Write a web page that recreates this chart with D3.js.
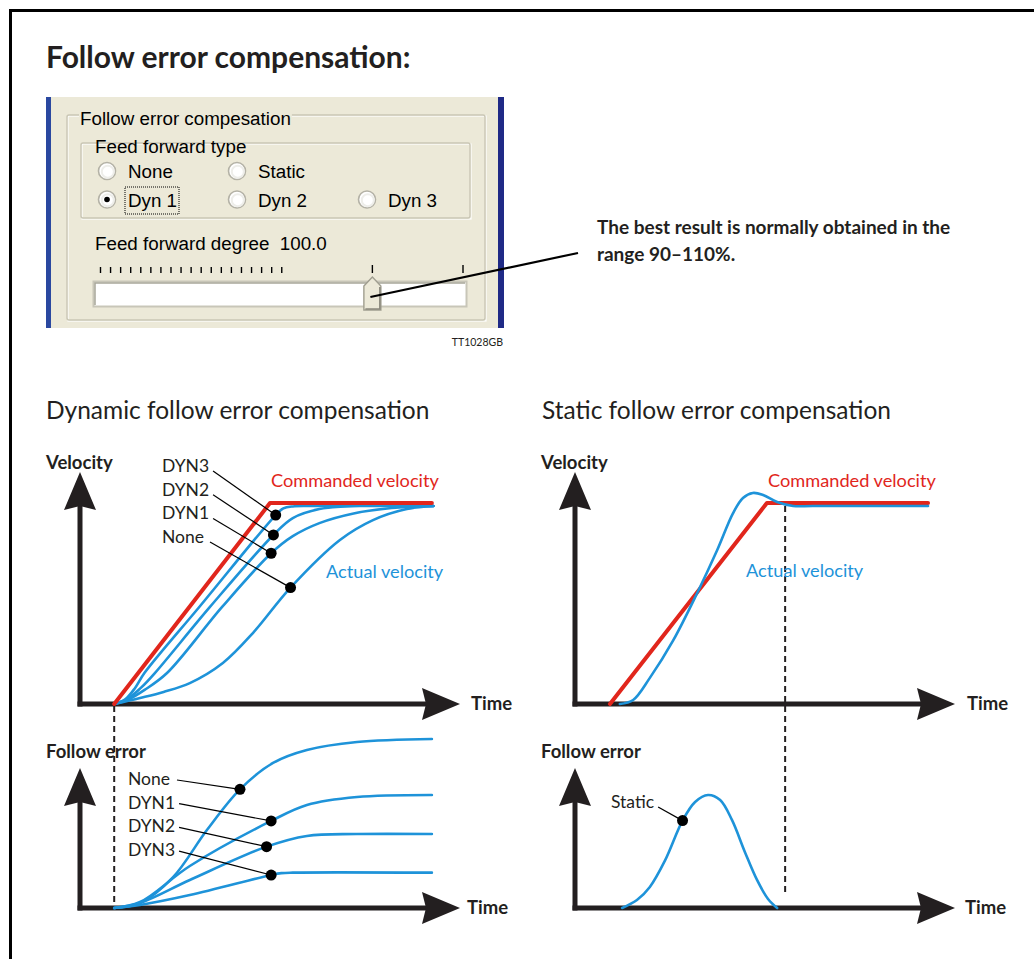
<!DOCTYPE html>
<html>
<head>
<meta charset="utf-8">
<script src="https://cdn.jsdelivr.net/npm/d3@7/dist/d3.min.js"></script>
<style>
  body { margin: 0; background: #fff; }
  text { font-family: Lato, "Open Sans", sans-serif; fill: #231f20; }
  .ui text { font-family: "Liberation Sans", Arial, sans-serif; fill: #000; }
</style>
</head>
<body>
<script>
// ---- data (time 0-100, value 0-100) ----
var commandedDyn = [[9,0],[50,100],[92.6,100]];
var velDyn3 = [[9,0],[12,2.5],[14.5,8],[17,15.5],[31.5,48.5],[51.5,94],[53.5,97.3],[56,98.3],[61,98.5],[93,98.5]];
var velDyn2 = [[9,0],[12.5,2.5],[16,8],[19.7,15.4],[34.2,48.3],[50.9,84.1],[56,92.5],[63,97],[72,98.5],[93,98.5]];
var velDyn1 = [[9,0],[13,2.5],[17,7],[22.9,15.4],[37.4,48.3],[50.3,75],[56,83.5],[63,90],[72,94.8],[82,97.5],[93,98.5]];
var velNone = [[9,0],[15.8,3],[22,6],[28.9,10.4],[37.6,20.4],[45.5,35.3],[55.4,57.9],[68.4,81.6],[77.1,91.5],[86,97],[93,98.5]];

var errNone = [[9,0],[15.8,2.9],[24.5,18.2],[33.4,45.9],[42.1,69.8],[50.8,85.3],[59.7,92.9],[72.9,97.6],[92.6,99.4]];
var errDyn1 = [[9,0],[15.8,3.5],[28.9,24.7],[50.3,51.2],[59.7,60.6],[72.9,65.3],[92.6,66.5]];
var errDyn2 = [[9,0],[15.8,3],[28.9,16.5],[49.1,36.1],[59.7,42.4],[72.9,43.5],[92.6,43.5]];
var errDyn3 = [[9,0],[15.8,1.8],[28.9,7.6],[50.3,19.4],[53,20.5],[56,20.8],[92.6,20.8]];

var commandedStat = [[9.2,0],[50.5,100],[92.9,100]];
var velStatic = [[11.8,0],[15.3,2],[19.7,13],[25.8,31.5],[32.1,55],[37.4,76.5],[41.6,95],[44.2,102.5],[46.8,105],[49.5,104],[53.2,100.5],[57.4,98.5],[62.6,98.5],[92.9,98.5]];
var errStatic = [[12.4,0],[16.3,4.7],[19.7,12.4],[23.7,28],[28.3,51.4],[31.6,62.4],[35,66.5],[38.2,63.5],[41.3,51.8],[44.7,33],[47.9,16.5],[50.8,5.3],[53.2,0]];

// markers on curves: label, time, value
var velLabels = ["DYN3","DYN2","DYN1","None"];
var velMarkers = [[51.5,94],[50.9,84.1],[50.3,75],[55.4,57.9]];
var errLabels = ["None","DYN1","DYN2","DYN3"];
var errMarkers = [[42.1,69.8],[50.3,51.2],[49.1,36.1],[50.3,19.4]];
var staticMarker = [28.3,51.4];

// dialog values
var radioLabels = ["None","Static","Dyn 1","Dyn 2","Dyn 3"];
var radioCells = [[0,0],[1,0],[0,1],[1,1],[2,1]];
var radioSelected = "Dyn 1";
var sliderTicks = [0,1,2,3,4,5,6,7,8,9,10,11,12,13,14,15,16,17,18,27,36];
var sliderValue = 27;

var red = "#e1261c", blue = "#1e93d9", ink = "#231f20";

var svg = d3.select("body").append("svg")
    .attr("width", 1034)
    .attr("height", 959);

// frame
svg.append("path")
    .attr("d", "M1034,10.5H10.5V959")
    .attr("fill", "none").attr("stroke", "#000").attr("stroke-width", 3);

svg.append("text").attr("x", 46).attr("y", 68)
    .attr("font-size", 30).attr("font-weight", "bold")
    .text("Follow error compensation:");

// ---- dialog screenshot ----
var ui = svg.append("g").attr("class", "ui");
ui.append("rect").attr("x", 46).attr("y", 97).attr("width", 458).attr("height", 231).attr("fill", "#ece9d8");
ui.append("rect").attr("x", 46).attr("y", 97).attr("width", 5).attr("height", 231).attr("fill", "#2a48a0");
ui.append("rect").attr("x", 498).attr("y", 97).attr("width", 6).attr("height", 231).attr("fill", "#1f2a86");

function groupBox(x, y, w, h, label, lx, ly) {
  ui.append("rect").attr("x", x + 1).attr("y", y + 1).attr("width", w).attr("height", h)
      .attr("fill", "none").attr("stroke", "#fff").attr("stroke-width", 1.2);
  ui.append("rect").attr("x", x).attr("y", y).attr("width", w).attr("height", h).attr("rx", 2)
      .attr("fill", "none").attr("stroke", "#c9c6b4").attr("stroke-width", 1.4);
  var t = ui.append("text").attr("x", lx).attr("y", ly).attr("font-size", 18.8).text(label);
  var b = t.node().getBBox();
  ui.insert("rect", "text").attr("x", b.x - 1).attr("y", y - 3).attr("width", b.width + 2).attr("height", 6).attr("fill", "#ece9d8");
}
groupBox(67, 115, 418, 205, "Follow error compesation", 80, 125);
groupBox(81, 143, 389, 75, "Feed forward type", 95, 153);

var radioX = d3.scaleLinear().domain([0, 2]).range([107, 367]);
var radioY = d3.scaleLinear().domain([0, 1]).range([171, 199.5]);
radioLabels.forEach(function(lab, i) {
  var cx = radioX(radioCells[i][0]), cy = radioY(radioCells[i][1]);
  ui.append("circle").attr("cx", cx).attr("cy", cy).attr("r", 8.5).attr("fill", "#fff")
      .attr("stroke", "#b4b2a6").attr("stroke-width", 1.6);
  ui.append("circle").attr("cx", cx + 0.8).attr("cy", cy + 0.8).attr("r", 6).attr("fill", "none")
      .attr("stroke", "#eeeeea").attr("stroke-width", 2);
  ui.append("text").attr("x", cx + 21).attr("y", cy + 7).attr("font-size", 18.8).text(lab);
  if (lab === radioSelected) {
    ui.append("circle").attr("cx", cx).attr("cy", cy).attr("r", 2.8).attr("fill", "#000");
    ui.append("rect").attr("x", cx + 18).attr("y", cy - 12.5).attr("width", 54).attr("height", 27)
        .attr("fill", "none").attr("stroke", "#000").attr("stroke-width", 1).attr("stroke-dasharray", "1,1");
  }
});

ui.append("text").attr("x", 95).attr("y", 250).attr("font-size", 18.8)
    .style("white-space", "pre").text("Feed forward degree  100.0");

var sx = d3.scaleLinear().domain([0, 36]).range([100.5, 463]);
ui.selectAll(".stick").data(sliderTicks).enter().append("line")
    .attr("x1", function(d) { return sx(d); }).attr("x2", function(d) { return sx(d); })
    .attr("y1", function(d) { return d > 18 ? 265 : 267; }).attr("y2", 273)
    .attr("stroke", "#000").attr("stroke-width", 1.4);
// track
ui.append("rect").attr("x", 93.5).attr("y", 281.5).attr("width", 373).attr("height", 25)
    .attr("fill", "#fff").attr("stroke", "#c8c6b8").attr("stroke-width", 2);
ui.append("path").attr("d", "M95,305V283H465").attr("fill", "none").attr("stroke", "#a8a699").attr("stroke-width", 1.5);
// thumb
var tx = sx(sliderValue);
ui.append("path")
    .attr("d", "M" + (tx - 8.5) + ",286L" + tx + ",277L" + (tx + 8.5) + ",286V310H" + (tx - 8.5) + "Z")
    .attr("fill", "#ece9d8").attr("stroke", "#a09e90").attr("stroke-width", 1.4);
ui.append("path")
    .attr("d", "M" + (tx - 7) + ",309H" + (tx + 7.5) + "V287")
    .attr("fill", "none").attr("stroke", "#8a887c").attr("stroke-width", 1.6);

// callout
svg.append("line").attr("x1", tx - 2).attr("y1", 297).attr("x2", 578).attr("y2", 253)
    .attr("stroke", "#000").attr("stroke-width", 2.2);
svg.append("text").attr("x", 597).attr("y", 234).attr("font-size", 19).attr("font-weight", "bold")
    .text("The best result is normally obtained in the");
svg.append("text").attr("x", 597).attr("y", 261).attr("font-size", 19).attr("font-weight", "bold")
    .text("range 90\u2013110%.");
svg.append("text").attr("x", 503).attr("y", 346).attr("font-size", 10.5)
    .attr("text-anchor", "end").attr("font-family", "Liberation Sans, Arial, sans-serif")
    .text("TT1028GB");

// ---- charts ----
svg.append("text").attr("x", 46).attr("y", 419).attr("font-size", 24.5).text("Dynamic follow error compensation");
svg.append("text").attr("x", 542).attr("y", 419).attr("font-size", 24.5).text("Static follow error compensation");

var xDyn = d3.scaleLinear().domain([0, 100]).range([80, 460]);
var xStat = d3.scaleLinear().domain([0, 100]).range([575, 955]);
var yVel = d3.scaleLinear().domain([0, 100]).range([704, 503]);
var yErr = d3.scaleLinear().domain([0, 100]).range([908, 738]);
var velTop = 472, errTop = 768;

function arrow(x1, y1, x2, y2) {
  var dx = x2 - x1, dy = y2 - y1, len = Math.sqrt(dx * dx + dy * dy);
  var ux = dx / len, uy = dy / len, px = -uy, py = ux;
  var hl = 38, hw = 16;
  var bx = x2 - ux * hl, by = y2 - uy * hl;
  svg.append("line").attr("x1", x1).attr("y1", y1).attr("x2", bx + ux * 6).attr("y2", by + uy * 6)
      .attr("stroke", ink).attr("stroke-width", 5);
  svg.append("path")
      .attr("d", "M" + x2 + "," + y2 + "L" + (bx + px * hw) + "," + (by + py * hw) +
                 "L" + (bx + ux * 4) + "," + (by + uy * 4) + "L" + (bx - px * hw) + "," + (by - py * hw) + "Z")
      .attr("fill", ink);
}

function axes(x, y, top, ylab, labY, tlx) {
  var x0 = x.range()[0], y0 = y(0);
  arrow(x0, y0 + 2.5, x0, top);
  arrow(x0 - 2.5, y0, x.range()[1], y0);
  svg.append("text").attr("x", x0 - 34).attr("y", labY).attr("font-size", 18.5).attr("font-weight", "bold").text(ylab);
  svg.append("text").attr("x", tlx).attr("y", y0 + 6).attr("font-size", 18.5).attr("font-weight", "bold").text("Time");
}

function curve(x, y, data, color, width, shape) {
  var line = d3.line()
      .x(function(d) { return x(d[0]); })
      .y(function(d) { return y(d[1]); })
      .curve(shape || d3.curveCatmullRom.alpha(0.5));
  svg.append("path").datum(data).attr("d", line)
      .attr("fill", "none").attr("stroke", color).attr("stroke-width", width)
      .attr("stroke-linejoin", "round").attr("stroke-linecap", "round");
}

function dashed(x, t, y1, y2) {
  svg.append("line").attr("x1", x(t)).attr("x2", x(t)).attr("y1", y1).attr("y2", y2)
      .attr("stroke", ink).attr("stroke-width", 2).attr("stroke-dasharray", "6,4");
}

function leaders(x, y, pts, labels, lx, ly0, dy, endOff, yOff) {
  labels.forEach(function(lab, i) {
    var ty = ly0 + i * dy;
    var t = svg.append("text").attr("x", lx).attr("y", ty).attr("font-size", 17.5).text(lab);
    var w = t.node().getComputedTextLength();
    svg.append("line").attr("x1", lx + Math.max(w, endOff) + 4).attr("y1", ty + yOff)
        .attr("x2", x(pts[i][0])).attr("y2", y(pts[i][1]))
        .attr("stroke", "#000").attr("stroke-width", 1.2);
    svg.append("circle").attr("cx", x(pts[i][0])).attr("cy", y(pts[i][1])).attr("r", 5.5).attr("fill", "#000");
  });
}

// dynamic, velocity
dashed(xDyn, 9, yVel(0) + 2, yErr(0) - 3);
axes(xDyn, yVel, velTop, "Velocity", 469, 471);
[velNone, velDyn1, velDyn2, velDyn3].forEach(function(s) { curve(xDyn, yVel, s, blue, 2.6); });
curve(xDyn, yVel, commandedDyn, red, 4, d3.curveLinear);
svg.append("text").attr("x", 271).attr("y", 487).attr("font-size", 18.2).style("fill", red).text("Commanded velocity");
svg.append("text").attr("x", 326).attr("y", 578).attr("font-size", 18.2).style("fill", blue).text("Actual velocity");
leaders(xDyn, yVel, velMarkers, velLabels, 162, 472, 23.7, 44, -1);

// dynamic, follow error
axes(xDyn, yErr, errTop, "Follow error", 758, 467);
[errNone, errDyn1, errDyn2, errDyn3].forEach(function(s) { curve(xDyn, yErr, s, blue, 2.6); });
leaders(xDyn, yErr, errMarkers, errLabels, 128, 785, 23.7, 45, -5);

// static, velocity
dashed(xStat, 55.3, yVel(98.5), yErr(8));
axes(xStat, yVel, velTop, "Velocity", 469, 967);
curve(xStat, yVel, commandedStat, red, 4, d3.curveLinear);
curve(xStat, yVel, velStatic, blue, 2.6);
svg.append("text").attr("x", 768).attr("y", 487).attr("font-size", 18.2).style("fill", red).text("Commanded velocity");
svg.append("text").attr("x", 746).attr("y", 577).attr("font-size", 18.2).style("fill", blue).text("Actual velocity");

// static, follow error
axes(xStat, yErr, errTop, "Follow error", 758, 965);
curve(xStat, yErr, errStatic, blue, 2.6);
leaders(xStat, yErr, [staticMarker], ["Static"], 611, 808, 0, 42, -1);
</script>
</body>
</html>
